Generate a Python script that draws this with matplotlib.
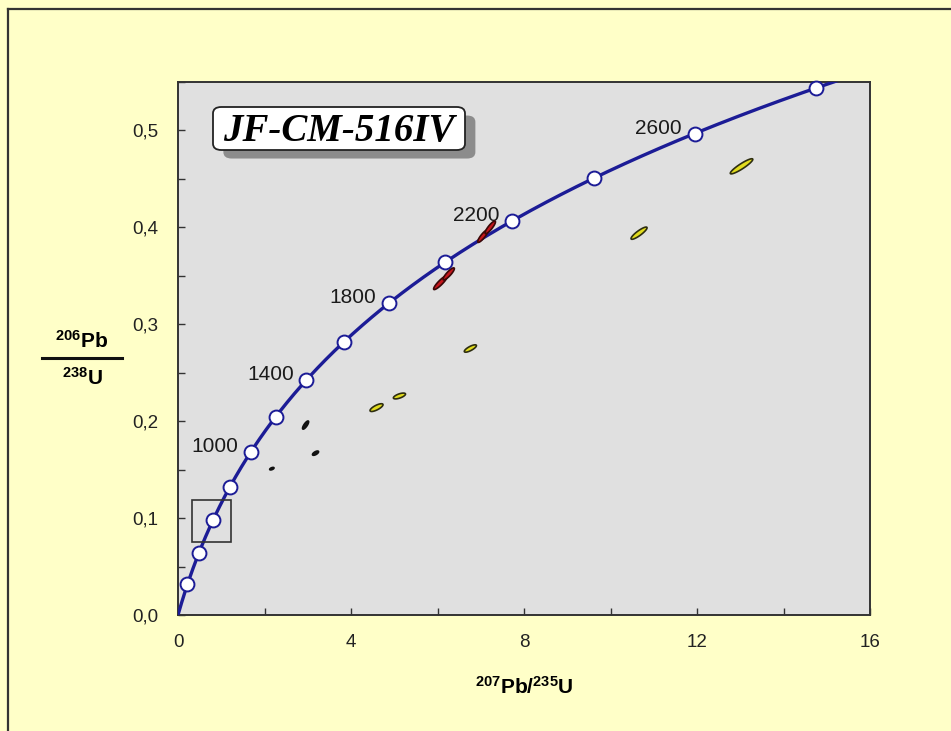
import numpy as np
import matplotlib
matplotlib.use("Agg")
import matplotlib.pyplot as plt
from matplotlib.patches import FancyBboxPatch, Rectangle, Polygon
from matplotlib.lines import Line2D
from matplotlib.ticker import MultipleLocator, FuncFormatter

plt.rcParams['font.family'] = ['Liberation Sans', 'DejaVu Sans']
plt.rcParams['mathtext.fontset'] = 'custom'
plt.rcParams['mathtext.rm'] = 'Liberation Sans'
plt.rcParams['mathtext.bf'] = 'Liberation Sans:bold'

# ---- data ----
sample_name = "JF-CM-516IV"
marker_ages = [200, 400, 600, 800, 1000, 1200, 1400, 1600, 1800, 2000, 2200, 2400, 2600, 2800]
label_ages = [1000, 1400, 1800, 2200, 2600]
lambda238 = 1.55125e-10
lambda235 = 9.8485e-10
curve_age_max = 3000

ell_x = [2.17, 2.95, 3.18, 4.59, 5.12, 6.76, 6.07, 6.26, 7.05, 7.22, 10.66, 13.03]
ell_y = [0.151, 0.196, 0.167, 0.214, 0.226, 0.275, 0.343, 0.352, 0.391, 0.400, 0.394, 0.463]
ell_sx = [0.05, 0.07, 0.07, 0.15, 0.14, 0.14, 0.16, 0.13, 0.12, 0.12, 0.185, 0.26]
ell_sy = [0.0013, 0.0042, 0.0022, 0.0040, 0.0030, 0.0038, 0.0072, 0.0062, 0.0065, 0.0065, 0.0063, 0.0078]
ell_rho = [0.55, 0.79, 0.65, 0.75, 0.65, 0.78, 0.90, 0.87, 0.87, 0.87, 0.88, 0.915]
ell_kind = ['black', 'black', 'black', 'yellow', 'yellow', 'yellow', 'red', 'red', 'red', 'red', 'yellow', 'yellow']

zoom_box_x = [0.32, 1.22]
zoom_box_y = [0.075, 0.119]

fill_colors = {'black': '#151515', 'yellow': '#e2dc1e', 'red': '#c4161c'}
edge_colors = {'black': '#111111', 'yellow': '#2e2e10', 'red': '#3a0808'}

# ---- figure ----
fig = plt.figure(figsize=(9.51, 7.31), dpi=100)
fig.patch.set_facecolor('#ffffc8')
ax = fig.add_axes([178/951, 1-615/731, 692/951, 533/731])
ax.set_facecolor('#e0e0e0')
ax.set_xlim(0, 16)
ax.set_ylim(0, 0.55)

# concordia curve
t = np.linspace(0, curve_age_max, 600) * 1e6
cx = np.exp(lambda235 * t) - 1
cy = np.exp(lambda238 * t) - 1
ax.plot(cx, cy, color='#1c1c96', lw=2.4, zorder=3)

ma = np.array(marker_ages) * 1e6
mx = np.exp(lambda235 * ma) - 1
my = np.exp(lambda238 * ma) - 1
ax.plot(mx, my, 'o', ms=10, mfc='white', mec='#1c1c96', mew=1.4, zorder=4, clip_on=False)

for a in label_ages:
    tt = a * 1e6
    lx = np.exp(lambda235 * tt) - 1
    ly = np.exp(lambda238 * tt) - 1
    ax.annotate(str(a), (lx, ly), xytext=(-26, 4), textcoords='offset points',
                ha='center', va='center', fontsize=15, color='#1a1a1a', zorder=5)

# error ellipses
th = np.linspace(0, 2*np.pi, 120)
for x0, y0, sx, sy, r, k in zip(ell_x, ell_y, ell_sx, ell_sy, ell_rho, ell_kind):
    ex = x0 + sx * np.cos(th)
    ey = y0 + sy * (r * np.cos(th) + np.sqrt(1 - r**2) * np.sin(th))
    ax.add_patch(Polygon(np.column_stack([ex, ey]), closed=True,
                         facecolor=fill_colors[k], edgecolor=edge_colors[k], lw=1.2, zorder=6))

# zoom box
ax.add_patch(Rectangle((zoom_box_x[0], zoom_box_y[0]), zoom_box_x[1]-zoom_box_x[0],
                       zoom_box_y[1]-zoom_box_y[0], fill=False, edgecolor='#333333', lw=1.2, zorder=7))

# title box
bx0, bx1 = (213-178)/692, (465-178)/692
by0, by1 = (615-150)/533, (615-107)/533
shadow = FancyBboxPatch((bx0 + 0.015, by0 - 0.016), bx1-bx0, by1-by0,
                        boxstyle='round,pad=0,rounding_size=0.012', transform=ax.transAxes,
                        facecolor='#8c8c8c', edgecolor='none', zorder=8)
box = FancyBboxPatch((bx0, by0), bx1-bx0, by1-by0,
                     boxstyle='round,pad=0,rounding_size=0.012', transform=ax.transAxes,
                     facecolor='white', edgecolor='#222222', lw=1.3, zorder=9)
ax.add_patch(shadow)
ax.add_patch(box)
ax.text((bx0+bx1)/2, (by0+by1)/2 - 0.006, sample_name, transform=ax.transAxes, ha='center', va='center',
        fontsize=28, fontweight='bold', fontstyle='italic', family='Liberation Serif', zorder=10)

# ticks
ax.xaxis.set_major_locator(MultipleLocator(4))
ax.xaxis.set_minor_locator(MultipleLocator(2))
ax.yaxis.set_major_locator(MultipleLocator(0.1))
ax.yaxis.set_minor_locator(MultipleLocator(0.05))
ax.yaxis.set_major_formatter(FuncFormatter(lambda v, p: f"{v:.1f}".replace('.', ',')))
ax.xaxis.set_major_formatter(FuncFormatter(lambda v, p: f"{v:.0f}"))
ax.tick_params(which='both', direction='in', length=5, width=1.0, color='#333333')
ax.tick_params(axis='y', which='major', pad=14, labelsize=13.5, labelcolor='#222222')
ax.tick_params(axis='x', which='major', pad=14, labelsize=13.5, labelcolor='#222222')
for s in ax.spines.values():
    s.set_color('#333333')
    s.set_linewidth(1.4)

# axis labels
fig.text(524/951, 1-687/731, r'$\mathbf{^{207}Pb/^{235}U}$', ha='center', va='center', fontsize=15)
fig.text(82/951, 1-341/731, r'$\mathbf{^{206}Pb}$', ha='center', va='center', fontsize=15)
fig.text(82/951, 1-378/731, r'$\mathbf{^{238}U}$', ha='center', va='center', fontsize=15)
fig.add_artist(Line2D([42/951, 122/951], [1-358/731, 1-358/731], color='#111111', lw=2.2))

# figure frame lines
fig.add_artist(Line2D([8/951, 1.0], [1-9/731, 1-9/731], color='#333333', lw=1.6))
fig.add_artist(Line2D([8/951, 8/951], [0, 1-9/731], color='#333333', lw=1.6))

fig.savefig('out.png', dpi=100, facecolor=fig.get_facecolor())
